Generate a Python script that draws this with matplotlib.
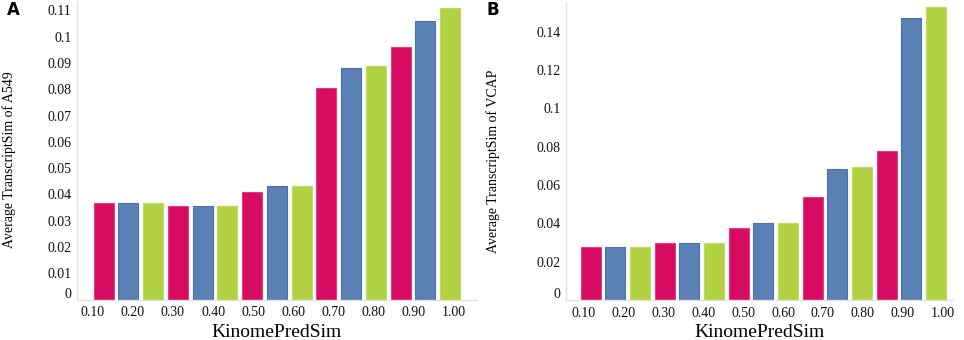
import matplotlib
matplotlib.use("Agg")
import matplotlib.pyplot as plt
import matplotlib.transforms as mtransforms
import numpy as np

# Data
tick_labels = ["0.10", "0.20", "0.30", "0.40", "0.50", "0.60", "0.70", "0.80", "0.90", "1.00"]
values_a549 = [0.0368, 0.0368, 0.0368, 0.0355, 0.0355, 0.0355, 0.0408, 0.0433, 0.0433,
               0.0806, 0.0880, 0.0888, 0.0960, 0.1061, 0.1110]
values_vcap = [0.0278, 0.0278, 0.0278, 0.0299, 0.0299, 0.0299, 0.0374, 0.0400, 0.0400,
               0.0539, 0.0685, 0.0696, 0.0779, 0.1470, 0.1528]
yticks_a = [0, 0.01, 0.02, 0.03, 0.04, 0.05, 0.06, 0.07, 0.08, 0.09, 0.1, 0.11]
ytick_labels_a = ["0", "0.01", "0.02", "0.03", "0.04", "0.05", "0.06", "0.07", "0.08", "0.09", "0.1", "0.11"]
yticks_b = [0, 0.02, 0.04, 0.06, 0.08, 0.1, 0.12, 0.14]
ytick_labels_b = ["0", "0.02", "0.04", "0.06", "0.08", "0.1", "0.12", "0.14"]

colors = ["#D80B63", "#5B80B5", "#B2D142"]
edges = ["#E0407F", "#4A70A8", "#C0DA60"]

plt.rcParams["font.family"] = ["Liberation Serif", "DejaVu Serif"]

fig = plt.figure(figsize=(9.64, 3.4), dpi=100)
W, H = 964, 340


def make_axes(left, right, top, bottom):
    return fig.add_axes([left / W, 1 - bottom / H, (right - left) / W, (bottom - top) / H])


def style_panel(ax, values, xlim, label_pos, yticks, ylabels, ylim, ylabel):
    n = len(values)
    x = np.arange(n)
    cols = [colors[i % 3] for i in range(n)]
    ecs = [edges[i % 3] for i in range(n)]
    ax.bar(x, values, width=0.81, color=cols, edgecolor=ecs, linewidth=0.8, zorder=2)
    ax.set_xlim(*xlim)
    ax.set_ylim(*ylim)
    ax.set_xticks(label_pos)
    ax.set_xticklabels(tick_labels, fontsize=10)
    ax.set_yticks(yticks)
    ax.set_yticklabels(ylabels, fontsize=10)
    ax.tick_params(axis="both", length=0, colors="#111111")
    ax.tick_params(axis="x", pad=5)
    ax.tick_params(axis="y", pad=4)
    # "0" label sits slightly higher in reference
    zero = ax.get_yticklabels()[0]
    zero.set_transform(zero.get_transform() + mtransforms.ScaledTranslation(0, 7 / 100, fig.dpi_scale_trans))
    for s in ["top", "right"]:
        ax.spines[s].set_visible(False)
    for s in ["left", "bottom"]:
        ax.spines[s].set_color("#E2E2E2")
        ax.spines[s].set_linewidth(1.0)
    ax.set_xlabel("KinomePredSim", fontsize=14, labelpad=3)
    ax.set_ylabel(ylabel, fontsize=10)


# Panel A
axA = make_axes(77, 477, 2, 299.5)
posA = np.linspace(-0.45, 14.17, 10)
style_panel(axA, values_a549, (-1.08, 15.09), posA, yticks_a, ytick_labels_a,
            (0, 0.1132), "Average TranscriptSim of A549")
axA.yaxis.set_label_coords(-0.152, 0.469)

# Panel B
axB = make_axes(566, 953, 2.5, 300)
posB = np.linspace(-0.28, 14.26, 10)
style_panel(axB, values_vcap, (-1.0, 14.69), posB, yticks_b, ytick_labels_b,
            (0, 0.1552), "Average TranscriptSim of VCAP")
axB.yaxis.set_label_coords(-0.171, 0.465)

fig.text(7 / W, 1 - 10 / H, "A", fontsize=12, fontweight="bold", family="DejaVu Sans",
         va="center", ha="left")
fig.text(486 / W, 1 - 10 / H, "B", fontsize=12, fontweight="bold", family="DejaVu Sans",
         va="center", ha="left")

fig.savefig("out.png", dpi=100)
